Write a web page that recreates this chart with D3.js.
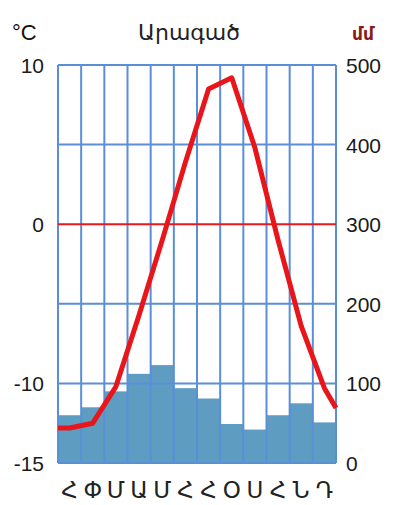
<!DOCTYPE html>
<html>
<head>
<meta charset="utf-8">
<script src="https://cdn.jsdelivr.net/npm/d3@7"></script>
<style>
  body { margin: 0; background: #fff; }
  svg text { font-family: "Liberation Sans", Arial, sans-serif; }
</style>
</head>
<body>
<div id="chart"></div>
<script>
// Արագած - climate chart
var months = ["Հ","Փ","Մ","Ա","Մ","Հ","Հ","Օ","Ս","Հ","Ն","Դ"];
var temps = [-12.8, -12.5, -10.2, -5.7, -1.0, 3.9, 8.5, 9.2, 4.8, -1.0, -6.4, -10.3];
var precip = [60, 70, 90, 112, 123, 94, 81, 49, 42, 60, 75, 51];
var tempTicks = [-15, -10, 0, 10];
var gridTicks = [-15, -10, -5, 0, 5, 10];
var precipTicks = [0, 100, 200, 300, 400, 500];

var W = 401, H = 505;
var plotL = 58, plotR = 336, plotT = 65, plotB = 463;

var svg = d3.select("#chart").append("svg")
  .attr("width", W)
  .attr("height", H);

var x = d3.scaleBand()
  .domain(d3.range(months.length))
  .range([plotL, plotR])
  .padding(0);

var yT = d3.scaleLinear().domain([-15, 10]).range([plotB, plotT]);
var yP = d3.scaleLinear().domain([0, 500]).range([plotB, plotT]);

// precipitation bars
svg.selectAll("rect.bar")
  .data(precip)
  .enter().append("rect")
  .attr("class", "bar")
  .attr("x", function(d, i) { return x(i); })
  .attr("width", x.bandwidth())
  .attr("y", function(d) { return yP(d); })
  .attr("height", function(d) { return yP(0) - yP(d); })
  .style("fill", "#5e9cc2");

// grid
var gridColor = "#5a8fd8";
svg.selectAll("line.vgrid")
  .data(d3.range(months.length + 1))
  .enter().append("line")
  .attr("x1", function(d) { return plotL + d * x.step(); })
  .attr("x2", function(d) { return plotL + d * x.step(); })
  .attr("y1", plotT)
  .attr("y2", plotB)
  .style("stroke", gridColor)
  .style("stroke-width", 2);

svg.selectAll("line.hgrid")
  .data(gridTicks)
  .enter().append("line")
  .attr("x1", plotL)
  .attr("x2", plotR)
  .attr("y1", function(d) { return yT(d); })
  .attr("y2", function(d) { return yT(d); })
  .style("stroke", function(d) { return d === 0 ? "#e8181c" : gridColor; })
  .style("stroke-width", 2);

// temperature line, extended to the plot edges
var pts = temps.map(function(t, i) { return [x(i) + x.bandwidth() / 2, yT(t)]; });
pts.unshift([plotL, yT(temps[0])]);
pts.push([plotR, yT((temps[11] + temps[0]) / 2)]);

svg.append("path")
  .datum(pts)
  .attr("d", d3.line())
  .style("fill", "none")
  .style("stroke", "#e8161b")
  .style("stroke-width", 5)
  .style("stroke-linejoin", "round");

// left axis
var axL = svg.append("g")
  .attr("transform", "translate(" + (plotL - 14) + ",0)")
  .call(d3.axisLeft(yT).tickValues(tempTicks).tickSize(0).tickPadding(0).tickFormat(d3.format("d")));
axL.select(".domain").remove();
axL.selectAll("text")
  .style("font-size", "21px")
  .style("font-family", "'Liberation Sans', Arial, sans-serif")
  .style("fill", "#1a1a1a")
  .attr("dy", "0.36em")
  .text(function(d) { return String(d); });

// right axis
var axR = svg.append("g")
  .attr("transform", "translate(" + (plotR + 10) + ",0)")
  .call(d3.axisRight(yP).tickValues(precipTicks).tickSize(0).tickPadding(0));
axR.select(".domain").remove();
axR.selectAll("text")
  .style("font-size", "21px")
  .style("font-family", "'Liberation Sans', Arial, sans-serif")
  .style("fill", "#1a1a1a")
  .attr("dy", "0.36em");

// months
svg.selectAll("text.month")
  .data(months)
  .enter().append("text")
  .attr("x", function(d, i) { return x(i) + x.bandwidth() / 2; })
  .attr("y", 498)
  .attr("text-anchor", "middle")
  .style("font-family", "'DejaVu Sans', sans-serif")
  .style("font-size", "23px")
  .style("fill", "#222")
  .text(function(d) { return d; });

// titles
svg.append("text")
  .attr("x", 12)
  .attr("y", 40)
  .style("font-size", "22px")
  .style("fill", "#111")
  .text("°C");

svg.append("text")
  .attr("x", 189)
  .attr("y", 40)
  .attr("text-anchor", "middle")
  .style("font-family", "'DejaVu Sans', sans-serif")
  .style("font-size", "22px")
  .style("fill", "#222")
  .text("Արագած");

svg.append("text")
  .attr("x", 352)
  .attr("y", 40)
  .style("font-family", "'DejaVu Sans', sans-serif")
  .style("font-size", "17px")
  .style("font-weight", "bold")
  .style("fill", "#8b1a1a")
  .text("մմ");
</script>
</body>
</html>
